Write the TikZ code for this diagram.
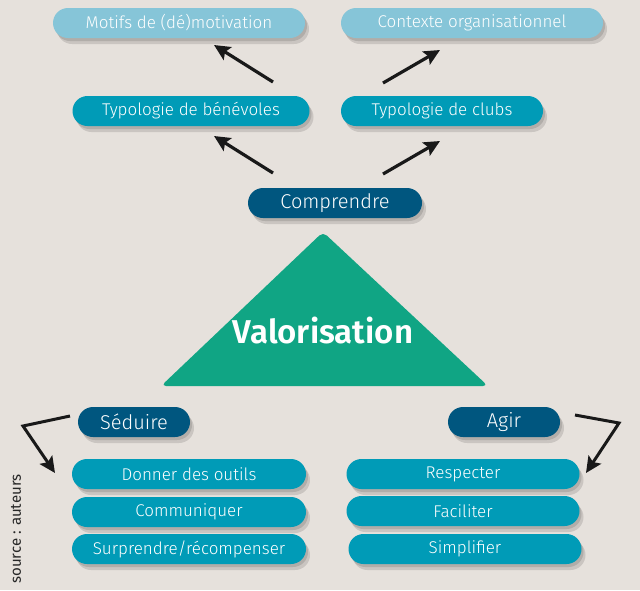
\documentclass[tikz,border=0pt]{standalone}
\usepackage{fontspec}
\setmainfont{Fira Sans}[UprightFont=* Light, BoldFont=* SemiBold]
\newfontfamily\regfont{Fira Sans}
\usetikzlibrary{arrows.meta,shadows}
\definecolor{bg}{HTML}{E6E1DC}
\definecolor{lightb}{HTML}{86C5D8}
\definecolor{midb}{HTML}{009BB7}
\definecolor{darkb}{HTML}{00567F}
\definecolor{greenv}{HTML}{10A584}
\tikzset{
  pill/.style={rounded corners=15pt, minimum height=30pt, text=white, inner sep=0pt,
    font=\fontsize{17}{20}\selectfont,
    double copy shadow={shadow xshift=2pt, shadow yshift=-3pt, opacity=0.12, fill=black, draw=none}},
  lightpill/.style={pill, fill=lightb},
  midpill/.style={pill, fill=midb},
  darkpill/.style={pill, fill=darkb, font=\fontsize{20}{23}\selectfont},
  arr/.style={line width=3.2pt, black!90, -{Stealth[length=16pt,width=15pt,inset=3pt]}},
  arrbent/.style={line width=3pt, black!90, line join=miter, -{Stealth[length=16pt,width=15pt,inset=3pt]}}
}
\begin{document}
\begin{tikzpicture}[x=1pt,y=-1pt]
\fill[bg] (0,0) rectangle (640,590);
\useasboundingbox (0,0) rectangle (640,590);

% top row
\node[lightpill, minimum width=252pt] (motifs) at (179,23) {Motifs de (dé)motivation};
\node[lightpill, minimum width=262pt] (contexte) at (472,23) {Contexte organisationnel};
% second row
\node[midpill, minimum width=237pt] (typben) at (191,111) {Typologie de bénévoles};
\node[midpill, minimum width=202pt] (typclub) at (442,111) {Typologie de clubs};
% comprendre
\node[darkpill, minimum width=174pt] (comprendre) at (335,203) {Comprendre};

% triangle
\fill[greenv, rounded corners=5pt] (323,232) -- (488,386) -- (161,386) -- cycle;
\node[text=white, font=\bfseries\fontsize{33}{38}\selectfont] (valo) at (323,331) {Valorisation};

% seduire / agir
\node[darkpill, minimum width=112pt] (seduire) at (134,422) {Séduire};
\node[darkpill, minimum width=112pt] (agir) at (504,422) {Agir};

% left column
\node[midpill, minimum width=234pt] (donner) at (189,474) {Donner des outils};
\node[midpill, minimum width=234pt] (comm) at (189,512) {Communiquer};
\node[midpill, minimum width=234pt] (surp) at (189,549) {Surprendre/récompenser};
% right column
\node[midpill, minimum width=233pt] (resp) at (463,474) {Respecter};
\node[midpill, minimum width=233pt] (facil) at (463,511) {Faciliter};
\node[midpill, minimum width=233pt] (simpl) at (465,549) {Simplifier};

% arrow coordinates
\coordinate (a1s) at (273,82);  \coordinate (a1e) at (214,45);
\coordinate (a2s) at (383,83);  \coordinate (a2e) at (440,50);
\coordinate (a3s) at (273,173); \coordinate (a3e) at (214,136);
\coordinate (a4s) at (383,174); \coordinate (a4e) at (440,141);
\draw[arr] (a1s) -- (a1e);
\draw[arr] (a2s) -- (a2e);
\draw[arr] (a3s) -- (a3e);
\draw[arr] (a4s) -- (a4e);

\coordinate (bls) at (70,416); \coordinate (blc) at (23,426); \coordinate (ble) at (55,473);
\coordinate (brs) at (575,415); \coordinate (brc) at (619,423); \coordinate (bre) at (586,473);
\draw[arrbent] (bls) -- (blc) -- (ble);
\draw[arrbent] (brs) -- (brc) -- (bre);

% source
\node[rotate=90, text=black!85, font=\regfont\fontsize{15}{17}\selectfont, anchor=center] (src) at (16,529) {source : auteurs};
\end{tikzpicture}
\end{document}
